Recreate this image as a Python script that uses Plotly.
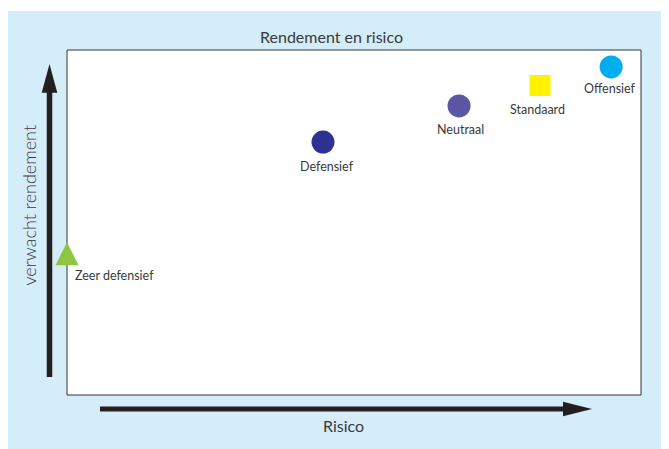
import plotly.graph_objects as go

# ---- data ----
names = ["Zeer defensief", "Defensief", "Neutraal", "Standaard", "Offensief"]
risico = [0.0, 44.6, 68.3, 82.4, 94.8]
rendement = [44.3, 73.3, 83.8, 89.7, 95.1]
colors = ["#8dc63f", "#2e3192", "#5b57a5", "#fff200", "#00aeef"]
symbols = ["arrow-up", "circle", "circle", "square", "circle"]
sizes = [23, 23, 23, 21, 23]
title_text = "Rendement en risico"
x_title = "Risico"
y_title = "verwacht rendement"

OFF = 8                      # page body margin of the browser
W, H = 669 - OFF, 449 - OFF  # figure size
L, R, T, B = 67, 641, 50, 395  # plot area in window pixels
PW, PH = R - L, B - T


def px(x):
    return (x - L) / PW


def py(y):
    return (B - y) / PH


FONT = "Lato"
TXT = "#3a3a3a"

fig = go.Figure()
fig.add_trace(go.Scatter(
    x=risico, y=rendement, mode="markers",
    marker=dict(color=colors, symbol=symbols, size=sizes, opacity=1, line=dict(width=0)),
    cliponaxis=False, hoverinfo="text", text=names, showlegend=False,
))

annotations = []
label_shift = {
    "Zeer defensief": (6, -33, "left"),
    "Defensief": (4, -24, "center"),
    "Neutraal": (1, -24, "center"),
    "Standaard": (-2, -24, "center"),
    "Offensief": (-1, -22, "center"),
}
for n, xv, yv in zip(names, risico, rendement):
    dx, dy, anc = label_shift[n]
    annotations.append(dict(x=xv, y=yv, xref="x", yref="y", text=n, showarrow=False,
                            xanchor=anc, yanchor="middle", xshift=dx, yshift=dy,
                            font=dict(family=FONT, size=12.5, color=TXT)))

annotations += [
    dict(x=px(331), y=py(36), xref="paper", yref="paper", text=title_text, showarrow=False,
         xanchor="center", yanchor="middle", font=dict(family=FONT, size=16, color=TXT)),
    dict(x=px(343), y=py(425), xref="paper", yref="paper", text=x_title, showarrow=False,
         xanchor="center", yanchor="middle", font=dict(family=FONT, size=16, color=TXT)),
    dict(x=px(28.5), y=py(205), xref="paper", yref="paper", text=y_title, showarrow=False,
         textangle=-90, xanchor="center", yanchor="middle",
         font=dict(family=FONT, size=18, color=TXT, weight=300)),
]

shapes = [
    # light blue panel
    dict(type="rect", xref="paper", yref="paper", x0=px(8), x1=px(680), y0=py(460), y1=py(11),
         fillcolor="#d5ecf9", line=dict(width=0), layer="below"),
    # white plot box
    dict(type="rect", xref="paper", yref="paper", x0=0, x1=1, y0=0, y1=1,
         fillcolor="white", line=dict(color="#333333", width=1), layer="below"),
    # vertical arrow
    dict(type="line", xref="paper", yref="paper", x0=px(49.5), x1=px(49.5), y0=py(377), y1=py(90),
         line=dict(color="#231f20", width=5.5)),
    dict(type="path", xref="paper", yref="paper",
         path=f"M {px(41.7)} {py(92.7)} L {px(57.3)} {py(92.7)} L {px(49.5)} {py(64)} Z",
         fillcolor="#231f20", line=dict(width=0)),
    # horizontal arrow
    dict(type="line", xref="paper", yref="paper", x0=px(100), x1=px(566), y0=py(409), y1=py(409),
         line=dict(color="#231f20", width=5)),
    dict(type="path", xref="paper", yref="paper",
         path=f"M {px(563)} {py(401.7)} L {px(563)} {py(416.3)} L {px(592)} {py(409)} Z",
         fillcolor="#231f20", line=dict(width=0)),
]

fig.update_layout(
    width=W, height=H,
    margin=dict(l=L - OFF, r=W + OFF - R, t=T - OFF, b=H + OFF - B, pad=0),
    paper_bgcolor="white", plot_bgcolor="rgba(0,0,0,0)",
    xaxis=dict(range=[0, 100], showgrid=False, zeroline=False, showticklabels=False,
               ticks="", showline=False, fixedrange=True),
    yaxis=dict(range=[0, 100], showgrid=False, zeroline=False, showticklabels=False,
               ticks="", showline=False, fixedrange=True),
    annotations=annotations, shapes=shapes, showlegend=False,
)

fig.write_html("out.html")
